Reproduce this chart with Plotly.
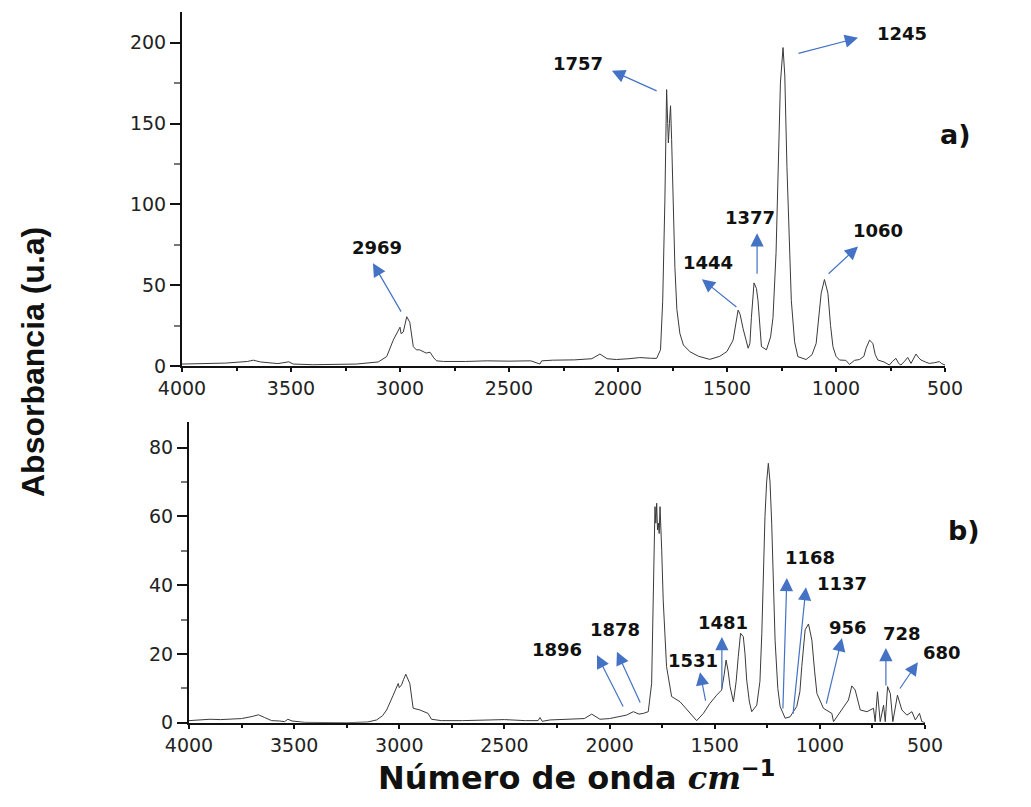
import plotly.graph_objects as go

# ---------------- data ----------------
a_wn = [4000, 3900, 3800, 3700, 3673, 3640, 3560, 3510, 3490, 3400, 3300, 3200, 3100, 3061, 3031, 3008,
        3000, 2995, 2985, 2969, 2955, 2939, 2925, 2910, 2880, 2862, 2845, 2832, 2800, 2700, 2600, 2500,
        2400, 2358, 2350, 2300, 2200, 2120, 2083, 2050, 2007, 1950, 1900, 1850, 1823, 1805, 1795, 1785,
        1777, 1772, 1769, 1764, 1759, 1754, 1750, 1745, 1739, 1730, 1716, 1700, 1670, 1630, 1579, 1533,
        1500, 1472, 1460, 1449, 1440, 1426, 1403, 1395, 1388, 1376, 1365, 1358, 1342, 1319, 1300, 1289,
        1275, 1266, 1255, 1243, 1235, 1225, 1215, 1205, 1190, 1175, 1137, 1110, 1091, 1078, 1068, 1053,
        1037, 1025, 1014, 1000, 984, 955, 938, 915, 892, 872, 862, 846, 831, 820, 808, 780, 755, 740,
        725, 712, 702, 685, 671, 656, 645, 633, 620, 610, 590, 572, 550, 526, 515, 503, 500]
a_abs = [1.2, 1.5, 1.8, 2.8, 3.6, 2.5, 1.5, 2.6, 1.2, 0.8, 0.9, 1.2, 2.5, 5.8, 16, 22,
         24, 20, 21, 30.5, 27, 12, 10, 10, 8, 8.5, 5, 3.2, 2.8, 2.8, 3.2, 3.0,
         3.2, 1.2, 3.2, 3.6, 3.8, 4.5, 7.4, 4.5, 4.0, 4.5, 5.2, 4.8, 4.7, 10, 40, 102,
         171, 150, 138, 150, 161, 140, 118, 90, 61, 35, 20, 13, 8.8, 6, 4.1, 6,
         9, 16, 25, 34.6, 32, 23, 11, 14, 30, 51.4, 48, 40.7, 12, 10, 18, 30,
         70, 123, 175, 197, 180, 123, 75, 40.7, 15, 5.8, 4, 7, 14, 30, 45, 53.5,
         45, 25, 12, 6, 3.7, 3.5, 1, 3.5, 4, 6, 11, 16, 14, 7, 3.7, 2.5, 0.6, 3,
         4.7, 1.5, 0.6, 3, 5.3, 1.6, 4, 7.4, 5, 3.7, 2.5, 1.6, 2, 2.7, 1.5, 0.6, 0.6]

b_wn = [4000, 3950, 3900, 3850, 3800, 3750, 3700, 3670, 3640, 3607, 3570, 3545, 3530, 3510, 3450, 3350,
        3250, 3150, 3108, 3080, 3060, 3029, 3005, 3000, 2989, 2980, 2969, 2950, 2934, 2902, 2880, 2863,
        2847, 2800, 2700, 2600, 2500, 2400, 2340, 2331, 2320, 2283, 2200, 2120, 2085, 2046, 2000, 1966,
        1920, 1887, 1860, 1840, 1816, 1800, 1790, 1784, 1780, 1776, 1772, 1768, 1764, 1760, 1752, 1745,
        1729, 1705, 1665, 1618, 1586, 1554, 1523, 1491, 1467, 1455, 1446, 1436, 1427, 1411, 1398, 1388,
        1377, 1364, 1356, 1348, 1335, 1324, 1300, 1285, 1276, 1261, 1253, 1245, 1237, 1229, 1213, 1200,
        1189, 1165, 1142, 1110, 1095, 1086, 1070, 1054, 1038, 1025, 1014, 983, 943, 935, 903, 864,
        848, 832, 808, 776, 745, 737, 726, 720, 713, 697, 689, 678, 665, 653, 631, 610,
        586, 562, 546, 526, 515, 500]
b_abs = [0.6, 0.8, 1.0, 0.9, 1.1, 1.2, 1.8, 2.3, 1.5, 0.6, 0.5, 0.3, 1.0, 0.5, 0.1, 0,
         0, 0.2, 0.8, 2, 3.7, 8, 11.4, 10.2, 11, 12.5, 14.1, 11.4, 4.2, 3.7, 3, 2.7,
         1, 0.6, 0.6, 0.8, 0.9, 0.6, 0.6, 1.5, 0.4, 0.8, 1.0, 1.2, 2.5, 1.0, 1.2, 1.7,
         2.2, 3.2, 2.5, 2.7, 3.2, 11.4, 40, 62.8, 58, 63.8, 56, 58, 55, 62.8, 50, 35.7,
         16.3, 7.6, 6.1, 2.7, 0.6, 2.7, 5.6, 8, 9.5, 14, 18.2, 15, 10.5, 6.1, 12, 19.2,
         26, 25, 20, 12.4, 6, 3.2, 5.1, 12, 26, 59.9, 70, 75.4, 70, 58, 24, 10,
         4.7, 1.3, 1.7, 4.7, 9, 16.3, 27, 28.7, 24, 15, 8.5, 4.2, 2.7, 0.3, 3.2, 6.6,
         10.7, 9.5, 3.7, 3.2, 4.2, 0.3, 9, 5, 0.3, 5.1, 0.3, 10.5, 8.5, 0.3, 8, 3.7,
         2.2, 3.2, 0.8, 2.7, 0.3, 0]

x_ticks = [4000, 3500, 3000, 2500, 2000, 1500, 1000, 500]
a_yticks = [0, 50, 100, 150, 200]
b_yticks = [0, 20, 40, 60, 80]

# peak labels: (label, head_x, head_y, tail_x, tail_y, text_px, text_py)
a_peaks = [
    ("2969", 3124, 63.6, 2991, 32.7, 377, 247),
    ("1757", 2028, 182.7, 1816, 169.8, 578, 63),
    ("1245", 899, 203, 1179, 193.2, 902, 33),
    ("1444", 1615, 53.7, 1450, 35.8, 708, 262),
    ("1377", 1362, 82.1, 1362, 56.2, 750, 217),
    ("1060", 899, 74, 1041, 56.2, 878, 230),
]
b_peaks = [
    ("1896", 2060, 19.7, 1932, 4.3, 557, 649),
    ("1878", 1965, 20.6, 1851, 5.4, 615, 629),
    ("1531", 1570, 14.7, 1542, 6.0, 693, 660),
    ("1481", 1466, 24.9, 1466, 9.5, 723, 622),
    ("1168", 1157, 42.1, 1176, 3.7, 810, 557),
    ("1137", 1066, 39.4, 1128, 2.2, 842, 583),
    ("956", 895, 24.6, 971, 5.1, 848, 627),
    ("728", 686, 21.7, 686, 10.4, 902, 633),
    ("680", 534, 17.6, 624, 9.5, 942, 652),
]

W, H = 1031, 807
fig = go.Figure()
fig.add_trace(go.Scatter(x=a_wn, y=a_abs, mode="lines", line=dict(color="#3a3a3a", width=1),
                         xaxis="x", yaxis="y", showlegend=False))
fig.add_trace(go.Scatter(x=b_wn, y=b_abs, mode="lines", line=dict(color="#3a3a3a", width=1),
                         xaxis="x2", yaxis="y2", showlegend=False))

tickfont = dict(family="DejaVu Sans", size=19, color="#222")

def xax(domain, anchor):
    return dict(domain=domain, anchor=anchor, range=[4000, 500], tickvals=x_ticks, automargin=False,
                showgrid=False, zeroline=False, showline=True, linecolor="#111", linewidth=2,
                ticks="outside", ticklen=4, tickwidth=1.5, tickcolor="#111", tickfont=tickfont,
                minor=dict(ticks="outside", ticklen=3, tickcolor="#111", dtick=250, showgrid=False))

def yax(domain, anchor, rng, tv, mdt):
    return dict(domain=domain, anchor=anchor, range=rng, tickvals=tv, automargin=False,
                showgrid=False, zeroline=False, showline=True, linecolor="#111", linewidth=2,
                ticks="outside", ticklen=10, tickwidth=1.5, tickcolor="#111", tickfont=tickfont,
                minor=dict(ticks="outside", ticklen=6, tickcolor="#777", dtick=mdt, showgrid=False))

fig.update_layout(
    template="none",
    width=W, height=H, margin=dict(l=0, r=0, t=0, b=0, autoexpand=False),
    paper_bgcolor="white", plot_bgcolor="white",
    xaxis=xax([182 / W, 945 / W], "y"),
    yaxis=yax([1 - 366 / H, 1 - 12 / H], "x", [0, 219], a_yticks, 25),
    xaxis2=xax([189 / W, 925 / W], "y2"),
    yaxis2=yax([1 - 722.7 / H, 1 - 421.7 / H], "x2", [0, 87.5], b_yticks, 10),
)

annots = []
arrow_color = "#4472C4"
for peaks, xr, yr in ((a_peaks, "x", "y"), (b_peaks, "x2", "y2")):
    for lab, hx, hy, tx, ty, px, py in peaks:
        annots.append(dict(x=hx, y=hy, xref=xr, yref=yr, ax=tx, ay=ty, axref=xr, ayref=yr,
                           text="", showarrow=True, arrowhead=2, arrowsize=2.2, arrowwidth=1.2,
                           arrowcolor=arrow_color, standoff=0))
        annots.append(dict(x=px / W, y=1 - py / H, xref="paper", yref="paper", text=lab,
                           showarrow=False, xanchor="center", yanchor="middle",
                           font=dict(family="DejaVu Sans", size=18, color="#111", weight="bold")))

annots.append(dict(x=973 / W, y=1 - 117 / H, xref="paper", yref="paper", text="a)", showarrow=False,
                   font=dict(family="DejaVu Sans", size=27, color="#111", weight="bold")))
annots.append(dict(x=982 / W, y=1 - 548 / H, xref="paper", yref="paper", text="b)", showarrow=False,
                   font=dict(family="DejaVu Sans", size=27, color="#111", weight="bold")))
annots.append(dict(x=33 / W, y=1 - 362 / H, xref="paper", yref="paper", text="Absorbancia (u.a)",
                   textangle=-90, showarrow=False, xanchor="center", yanchor="middle",
                   font=dict(family="Liberation Sans", size=32, color="#111", weight="bold")))
annots.append(dict(x=576 / W, y=1 - 776 / H, xref="paper", yref="paper",
                   text="Número de onda <span style=\"font-family:'DejaVu Serif';font-style:italic\">cm</span><sup>−1</sup>",
                   showarrow=False, xanchor="center", yanchor="middle",
                   font=dict(family="DejaVu Sans", size=32, color="#111", weight="bold")))
fig.update_layout(annotations=annots)

fig.write_html("out.html", config={"displayModeBar": False},
               post_script="document.body.style.margin='0';")
